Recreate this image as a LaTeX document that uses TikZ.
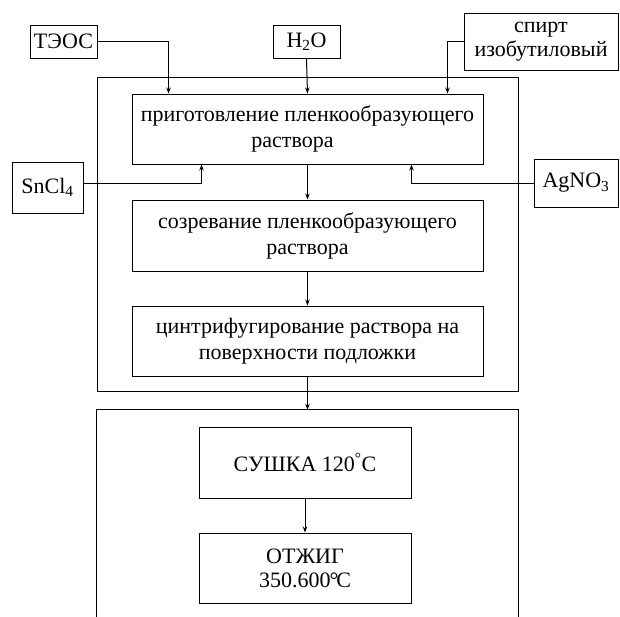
\documentclass[tikz,border=0pt]{standalone}
\usepackage{fontspec}
\setmainfont{Liberation Serif}
\usetikzlibrary{arrows.meta}
\begin{document}
\begin{tikzpicture}[x=1pt,y=-1pt,
  box/.style={draw, line width=1pt, inner sep=0pt, align=center, font=\fontsize{22}{26}\selectfont},
  arr/.style={line width=1pt, -{Stealth[length=6pt,width=4.5pt]}},
  ln/.style={line width=1pt}]
\useasboundingbox (0,0) rectangle (620,616);
% outer frames
\node[draw, line width=1pt, minimum width=421pt, minimum height=314pt] (outer1) at (307.5,234) {};
\node[minimum width=421pt, minimum height=210pt, inner sep=0pt] (outer2) at (307.5,515) {};
\draw[ln] (outer2.south west) -- (outer2.north west) -- (outer2.north east) -- (outer2.south east);
% inputs
\node[box, minimum width=67pt, minimum height=33pt] (teos) at (63.5,41.5) {ТЭОС};
\node[box, minimum width=67pt, minimum height=33pt] (h2o) at (306.5,41.5) {H\textsubscript{2}O};
\node[box, minimum width=154pt, minimum height=57pt, font=\fontsize{22}{24}\selectfont] (spirt) at (541,41.5) {спирт\\изобутиловый};
\node[box, minimum width=71pt, minimum height=51pt] (sncl) at (47.5,187.5) {SnCl\textsubscript{4}};
\node[box, minimum width=84pt, minimum height=48pt] (agno) at (576,183) {AgNO\textsubscript{3}};
% steps
\node[box, minimum width=351pt, minimum height=70pt] (box1) at (307.5,129) {приготовление пленкообразующего\\\hspace*{-30pt}раствора};
\node[box, minimum width=351pt, minimum height=71pt] (box2) at (307.5,235.5) {созревание пленкообразующего\\раствора};
\node[box, minimum width=351pt, minimum height=70pt] (box3) at (307.5,341) {цинтрифугирование раствора на\\поверхности подложки};
\node[box, minimum width=212pt, minimum height=71pt] (sush) at (305,462.5) {СУШКА 120\textsuperscript{°}C};
\node[box, minimum width=212pt, minimum height=70pt, font=\fontsize{22}{24}\selectfont] (otzh) at (305,568) {ОТЖИГ\\350.600\kern-1pt°\kern-2pt C};
% connectors
\draw[arr] (teos.east) -| ([xshift=37pt]box1.north west);
\draw[arr] (h2o.south) -- (box1.north);
\draw[arr] (spirt.west) -| ([xshift=-36pt]box1.north east);
\draw[arr] ([yshift=4pt]sncl.east) -| ([xshift=70pt]box1.south west);
\draw[arr] (agno.west) -| ([xshift=-72pt]box1.south east);
\draw[arr] (box1.south) -- (box2.north);
\draw[arr] (box2.south) -- (box3.north);
\draw[arr] (box3.south) -- (outer2.north);
\draw[arr] (sush.south) -- (otzh.north);
\end{tikzpicture}
\end{document}
